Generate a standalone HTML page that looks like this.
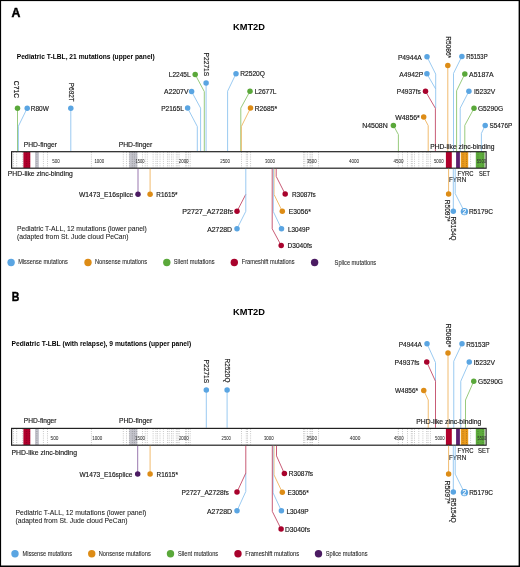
<!DOCTYPE html>
<html><head><meta charset="utf-8"><title>KMT2D</title>
<style>html,body{margin:0;padding:0;background:#fff;width:520px;height:567px;overflow:hidden}
svg{display:block;font-family:"Liberation Sans",sans-serif;will-change:transform}</style></head>
<body>
<svg width="520" height="567" viewBox="0 0 520 567" font-family="Liberation Sans, sans-serif" fill="#1a1a1a">
<rect x="0" y="0" width="520" height="567" fill="#000"/>
<rect x="1.1" y="1.1" width="517.5" height="564.4" fill="#fff"/>
<text x="11.4" y="16.6" font-size="12.9" font-weight="bold" textLength="8.9" lengthAdjust="spacingAndGlyphs" fill="#000" stroke="#000" stroke-width="0.45">A</text>
<text x="233" y="29.7" font-size="8.9" font-weight="bold" textLength="32" lengthAdjust="spacingAndGlyphs" fill="#000">KMT2D</text>
<text x="16.7" y="58.6" font-size="6.7" font-weight="bold" textLength="138" lengthAdjust="spacingAndGlyphs" fill="#000">Pediatric T-LBL, 21 mutations (upper panel)</text>
<polyline points="17.5,151.1 17.5,108.2" fill="none" stroke="#8cc46e" stroke-width="0.9"/>
<polyline points="18.4,151.1 18.4,126.2 27.2,108.2" fill="none" stroke="#8ec4ef" stroke-width="0.9"/>
<polyline points="70.8,151.1 70.8,108.2" fill="none" stroke="#8ec4ef" stroke-width="0.9"/>
<polyline points="197.3,151.1 197.3,126.5 187.6,108.1" fill="none" stroke="#8ec4ef" stroke-width="0.9"/>
<polyline points="200.6,151.1 200.6,108.1 191.6,91.6" fill="none" stroke="#8ec4ef" stroke-width="0.9"/>
<polyline points="204.3,151.1 204.3,91.6 195.2,74.5" fill="none" stroke="#8cc46e" stroke-width="0.9"/>
<polyline points="206.1,151.1 206.1,82.9" fill="none" stroke="#8ec4ef" stroke-width="0.9"/>
<polyline points="227.6,151.1 227.6,91.2 236,73.7" fill="none" stroke="#8ec4ef" stroke-width="0.9"/>
<polyline points="240.8,151.1 240.8,108.1 250,91.2" fill="none" stroke="#8cc46e" stroke-width="0.9"/>
<polyline points="241.3,151.1 241.3,126.6 250.5,108.1" fill="none" stroke="#efb460" stroke-width="0.9"/>
<polyline points="398.4,151.1 398.4,134.6 393.4,125.4" fill="none" stroke="#8cc46e" stroke-width="0.9"/>
<polyline points="428.2,151.1 428.2,125.6 423.7,117" fill="none" stroke="#efb460" stroke-width="0.9"/>
<polyline points="435.7,89 435.7,74.1 427,56.8" fill="none" stroke="#8ec4ef" stroke-width="0.9"/>
<polyline points="435.7,108.3 435.7,89 426.9,73.8" fill="none" stroke="#8ec4ef" stroke-width="0.9"/>
<polyline points="435.4,151.1 435.4,108.3 425.5,91.3" fill="none" stroke="#c24a66" stroke-width="0.9"/>
<polyline points="447.8,151.1 447.8,65.5" fill="none" stroke="#efb460" stroke-width="0.9"/>
<polyline points="453.5,151.1 453.5,73.4 461.9,56.4" fill="none" stroke="#8ec4ef" stroke-width="0.9"/>
<polyline points="456.6,151.1 456.6,90.8 464.8,74" fill="none" stroke="#8cc46e" stroke-width="0.9"/>
<polyline points="460.2,151.1 460.2,108.1 468.9,91.3" fill="none" stroke="#8ec4ef" stroke-width="0.9"/>
<polyline points="464.8,151.1 464.8,125.3 474,108.3" fill="none" stroke="#8cc46e" stroke-width="0.9"/>
<polyline points="481.4,151.1 481.4,133.4 485.2,125.4" fill="none" stroke="#8ec4ef" stroke-width="0.9"/>
<circle cx="17.5" cy="108.2" r="2.75" fill="#5aa83a"/>
<circle cx="27.2" cy="108.2" r="2.75" fill="#5aa5e2"/>
<circle cx="70.8" cy="108.2" r="2.75" fill="#5aa5e2"/>
<circle cx="187.6" cy="108.1" r="2.75" fill="#5aa5e2"/>
<circle cx="191.6" cy="91.6" r="2.75" fill="#5aa5e2"/>
<circle cx="195.2" cy="74.5" r="2.75" fill="#5aa83a"/>
<circle cx="206.1" cy="82.9" r="2.75" fill="#5aa5e2"/>
<circle cx="236" cy="73.7" r="2.75" fill="#5aa5e2"/>
<circle cx="250" cy="91.2" r="2.75" fill="#5aa83a"/>
<circle cx="250.5" cy="108.1" r="2.75" fill="#dd8c16"/>
<circle cx="393.4" cy="125.4" r="2.75" fill="#5aa83a"/>
<circle cx="423.7" cy="117" r="2.75" fill="#dd8c16"/>
<circle cx="427" cy="56.8" r="2.75" fill="#5aa5e2"/>
<circle cx="426.9" cy="73.8" r="2.75" fill="#5aa5e2"/>
<circle cx="425.5" cy="91.3" r="2.75" fill="#a8022c"/>
<circle cx="447.8" cy="65.5" r="2.75" fill="#dd8c16"/>
<circle cx="461.9" cy="56.4" r="2.75" fill="#5aa5e2"/>
<circle cx="464.8" cy="74" r="2.75" fill="#5aa83a"/>
<circle cx="468.9" cy="91.3" r="2.75" fill="#5aa5e2"/>
<circle cx="474" cy="108.3" r="2.75" fill="#5aa83a"/>
<circle cx="485.2" cy="125.4" r="2.75" fill="#5aa5e2"/>
<text x="0" y="0" font-size="6.9" transform="translate(14.3 80.8) rotate(90)" textLength="17.2" lengthAdjust="spacingAndGlyphs" stroke="#1a1a1a" stroke-width="0.16">C71C</text>
<text x="30.8" y="110.97" font-size="6.9" textLength="18" lengthAdjust="spacingAndGlyphs" stroke="#1a1a1a" stroke-width="0.16">R80W</text>
<text x="0" y="0" font-size="6.9" transform="translate(68.9 82.8) rotate(90)" textLength="18.9" lengthAdjust="spacingAndGlyphs" stroke="#1a1a1a" stroke-width="0.16">P692T</text>
<text x="183.8" y="110.87" font-size="6.9" text-anchor="end" textLength="22.6" lengthAdjust="spacingAndGlyphs" stroke="#1a1a1a" stroke-width="0.16">P2165L</text>
<text x="188.5" y="94.37" font-size="6.9" text-anchor="end" textLength="24.4" lengthAdjust="spacingAndGlyphs" stroke="#1a1a1a" stroke-width="0.16">A2207V</text>
<text x="190.6" y="77.27" font-size="6.9" text-anchor="end" textLength="21.8" lengthAdjust="spacingAndGlyphs" stroke="#1a1a1a" stroke-width="0.16">L2245L</text>
<text x="0" y="0" font-size="6.9" transform="translate(204.1 52.6) rotate(90)" textLength="23.6" lengthAdjust="spacingAndGlyphs" stroke="#1a1a1a" stroke-width="0.16">P2271S</text>
<text x="240.2" y="76.47" font-size="6.9" textLength="24.8" lengthAdjust="spacingAndGlyphs" stroke="#1a1a1a" stroke-width="0.16">R2520Q</text>
<text x="254.7" y="93.97" font-size="6.9" textLength="21.8" lengthAdjust="spacingAndGlyphs" stroke="#1a1a1a" stroke-width="0.16">L2677L</text>
<text x="254.7" y="110.87" font-size="6.9" textLength="22.4" lengthAdjust="spacingAndGlyphs" stroke="#1a1a1a" stroke-width="0.16">R2685*</text>
<text x="387.8" y="128.17" font-size="6.9" text-anchor="end" textLength="25.6" lengthAdjust="spacingAndGlyphs" stroke="#1a1a1a" stroke-width="0.16">N4508N</text>
<text x="419.8" y="119.57" font-size="6.9" text-anchor="end" textLength="24.6" lengthAdjust="spacingAndGlyphs" stroke="#1a1a1a" stroke-width="0.16">W4856*</text>
<text x="420.8" y="94.07" font-size="6.9" text-anchor="end" textLength="24" lengthAdjust="spacingAndGlyphs" stroke="#1a1a1a" stroke-width="0.16">P4937fs</text>
<text x="423.1" y="76.57" font-size="6.9" text-anchor="end" textLength="23.8" lengthAdjust="spacingAndGlyphs" stroke="#1a1a1a" stroke-width="0.16">A4942P</text>
<text x="421.8" y="59.57" font-size="6.9" text-anchor="end" textLength="23.9" lengthAdjust="spacingAndGlyphs" stroke="#1a1a1a" stroke-width="0.16">P4944A</text>
<text x="0" y="0" font-size="6.9" transform="translate(446 36.2) rotate(90)" textLength="22" lengthAdjust="spacingAndGlyphs" stroke="#1a1a1a" stroke-width="0.16">R5086*</text>
<text x="466.2" y="59.17" font-size="6.9" textLength="21.4" lengthAdjust="spacingAndGlyphs" stroke="#1a1a1a" stroke-width="0.16">R5153P</text>
<text x="469.1" y="76.77" font-size="6.9" textLength="24.6" lengthAdjust="spacingAndGlyphs" stroke="#1a1a1a" stroke-width="0.16">A5187A</text>
<text x="474" y="94.07" font-size="6.9" textLength="21.2" lengthAdjust="spacingAndGlyphs" stroke="#1a1a1a" stroke-width="0.16">I5232V</text>
<text x="477.9" y="111.07" font-size="6.9" textLength="25.2" lengthAdjust="spacingAndGlyphs" stroke="#1a1a1a" stroke-width="0.16">G5290G</text>
<text x="489.5" y="128.17" font-size="6.9" textLength="22.7" lengthAdjust="spacingAndGlyphs" stroke="#1a1a1a" stroke-width="0.16">S5476P</text>
<rect x="23.4" y="151.9" width="6.9" height="16.1" fill="#b0002c"/>
<rect x="35" y="151.9" width="3.9" height="16.1" fill="#c4c4cc"/>
<rect x="129.3" y="151.9" width="8" height="16.1" fill="#c4c4cc"/>
<rect x="445.9" y="151.9" width="5.9" height="16.1" fill="#b0002c"/>
<rect x="456.1" y="151.9" width="3.8" height="16.1" fill="#5b1f70"/>
<rect x="460.8" y="151.9" width="7.4" height="16.1" fill="#e99a1c"/>
<rect x="475.8" y="151.9" width="8.8" height="16.1" fill="#5dab3c"/>
<path d="M13.5 152.1V167.8 M16.7 152.1V167.8 M22.7 152.1V167.8 M26.7 152.1V167.8 M29.6 152.1V167.8 M36.9 152.1V167.8 M43.4 152.1V167.8 M47.5 152.1V167.8 M91.4 152.1V167.8 M123.3 152.1V167.8 M126.5 152.1V167.8 M129.4 152.1V167.8 M132.3 152.1V167.8 M134.4 152.1V167.8 M136.9 152.1V167.8 M142.5 152.1V167.8 M145.2 152.1V167.8 M147.3 152.1V167.8 M153.1 152.1V167.8 M155.9 152.1V167.8 M157.4 152.1V167.8 M160 152.1V167.8 M163.4 152.1V167.8 M167.5 152.1V167.8 M169.2 152.1V167.8 M171.5 152.1V167.8 M173.2 152.1V167.8 M176.3 152.1V167.8 M177.8 152.1V167.8 M179.2 152.1V167.8 M185.6 152.1V167.8 M186.7 152.1V167.8 M188.5 152.1V167.8 M190.2 152.1V167.8 M241.5 152.1V167.8 M246.3 152.1V167.8 M247.5 152.1V167.8 M250.6 152.1V167.8 M303.6 152.1V167.8 M304.8 152.1V167.8 M307.3 152.1V167.8 M310 152.1V167.8 M311.1 152.1V167.8 M312.5 152.1V167.8 M318.6 152.1V167.8 M398.3 152.1V167.8 M402.5 152.1V167.8 M407.5 152.1V167.8 M411.3 152.1V167.8 M412.3 152.1V167.8 M414.5 152.1V167.8 M418.8 152.1V167.8 M422.9 152.1V167.8 M426.7 152.1V167.8 M428.1 152.1V167.8 M430.4 152.1V167.8 M463 152.1V167.8 M466.5 152.1V167.8 M470.6 152.1V167.8 M478 152.1V167.8 M483 152.1V167.8" stroke="#000" stroke-opacity="0.38" stroke-width="0.6" stroke-dasharray="1 1.2" fill="none"/>
<text x="52.2" y="162.75" font-size="5.7" textLength="7.6" lengthAdjust="spacingAndGlyphs" fill="#333" stroke="#333" stroke-width="0.05">500</text>
<text x="94.4" y="162.75" font-size="5.7" textLength="9.8" lengthAdjust="spacingAndGlyphs" fill="#333" stroke="#333" stroke-width="0.05">1000</text>
<text x="135.6" y="162.75" font-size="5.7" textLength="9" lengthAdjust="spacingAndGlyphs" fill="#333" stroke="#333" stroke-width="0.05">1500</text>
<text x="178.7" y="162.75" font-size="5.7" textLength="9.9" lengthAdjust="spacingAndGlyphs" fill="#333" stroke="#333" stroke-width="0.05">2000</text>
<text x="220.2" y="162.75" font-size="5.7" textLength="9.8" lengthAdjust="spacingAndGlyphs" fill="#333" stroke="#333" stroke-width="0.05">2500</text>
<text x="265" y="162.75" font-size="5.7" textLength="10.1" lengthAdjust="spacingAndGlyphs" fill="#333" stroke="#333" stroke-width="0.05">3000</text>
<text x="306.9" y="162.75" font-size="5.7" textLength="9.7" lengthAdjust="spacingAndGlyphs" fill="#333" stroke="#333" stroke-width="0.05">3500</text>
<text x="348.9" y="162.75" font-size="5.7" textLength="10.2" lengthAdjust="spacingAndGlyphs" fill="#333" stroke="#333" stroke-width="0.05">4000</text>
<text x="393.5" y="162.75" font-size="5.7" textLength="10.1" lengthAdjust="spacingAndGlyphs" fill="#333" stroke="#333" stroke-width="0.05">4500</text>
<text x="433.9" y="162.75" font-size="5.7" textLength="9.7" lengthAdjust="spacingAndGlyphs" fill="#333" stroke="#333" stroke-width="0.05">5000</text>
<text x="476.8" y="162.75" font-size="5.7" textLength="9.3" lengthAdjust="spacingAndGlyphs" fill="#333" stroke="#333" stroke-width="0.05">5500</text>
<rect x="11.6" y="151.7" width="474.5" height="16.5" fill="none" stroke="#222" stroke-width="1.2"/>
<text x="23.8" y="146.6" font-size="7" textLength="33.2" lengthAdjust="spacingAndGlyphs" stroke="#1a1a1a" stroke-width="0.16">PHD-finger</text>
<text x="118.7" y="147" font-size="7" textLength="33.6" lengthAdjust="spacingAndGlyphs" stroke="#1a1a1a" stroke-width="0.16">PHD-finger</text>
<text x="7.8" y="175.9" font-size="7" textLength="64.9" lengthAdjust="spacingAndGlyphs" stroke="#1a1a1a" stroke-width="0.16">PHD-like zinc-binding</text>
<text x="430.2" y="148.6" font-size="7" textLength="64.2" lengthAdjust="spacingAndGlyphs" stroke="#1a1a1a" stroke-width="0.16">PHD-like zinc-binding</text>
<text x="457.6" y="175.5" font-size="7.5" textLength="16" lengthAdjust="spacingAndGlyphs" stroke="#1a1a1a" stroke-width="0.16">FYRC</text>
<text x="479" y="175.5" font-size="7.5" textLength="11" lengthAdjust="spacingAndGlyphs" stroke="#1a1a1a" stroke-width="0.16">SET</text>
<text x="449" y="182.4" font-size="7.5" textLength="17.2" lengthAdjust="spacingAndGlyphs" stroke="#1a1a1a" stroke-width="0.16">FYRN</text>
<polyline points="138,168.8 138,194.3" fill="none" stroke="#8e6aa6" stroke-width="0.9"/>
<polyline points="150.1,168.8 150.1,194.3" fill="none" stroke="#efb460" stroke-width="0.9"/>
<polyline points="245.8,194.3 245.8,194.3 237,211.3" fill="none" stroke="#c24a66" stroke-width="0.9"/>
<polyline points="245.8,168.8 245.8,211.3 237,228.8" fill="none" stroke="#8ec4ef" stroke-width="0.9"/>
<polyline points="276.2,168.8 276.2,176.4 285.2,194.1" fill="none" stroke="#c24a66" stroke-width="0.9"/>
<polyline points="274,168.8 274,194.4 282.3,211.3" fill="none" stroke="#efb460" stroke-width="0.9"/>
<polyline points="273.3,168.8 273.3,211.6 281.5,228.8" fill="none" stroke="#8ec4ef" stroke-width="0.9"/>
<polyline points="272.2,168.8 272.2,228.8 281.2,245.5" fill="none" stroke="#c24a66" stroke-width="0.9"/>
<polyline points="448.6,168.8 448.6,193.9" fill="none" stroke="#efb460" stroke-width="0.9"/>
<polyline points="453.3,168.8 453.3,211.3" fill="none" stroke="#8ec4ef" stroke-width="0.9"/>
<polyline points="455.2,168.8 455.2,193.6 464.4,211.6" fill="none" stroke="#8ec4ef" stroke-width="0.9"/>
<circle cx="138" cy="194.3" r="2.75" fill="#4b1b62"/>
<circle cx="150.1" cy="194.3" r="2.75" fill="#dd8c16"/>
<circle cx="237" cy="211.3" r="2.75" fill="#a8022c"/>
<circle cx="237" cy="228.8" r="2.75" fill="#5aa5e2"/>
<circle cx="285.2" cy="194.1" r="2.75" fill="#a8022c"/>
<circle cx="282.3" cy="211.3" r="2.75" fill="#dd8c16"/>
<circle cx="281.5" cy="228.8" r="2.75" fill="#5aa5e2"/>
<circle cx="281.2" cy="245.5" r="2.75" fill="#a8022c"/>
<circle cx="448.6" cy="193.9" r="2.75" fill="#dd8c16"/>
<circle cx="453.3" cy="211.3" r="2.75" fill="#5aa5e2"/>
<circle cx="464.4" cy="211.6" r="3.7" fill="#5aa5e2"/>
<text x="464.45" y="213.95" font-size="6.6" text-anchor="middle" fill="#fff" stroke="#fff" stroke-width="0.25">2</text>
<text x="133.3" y="197.07" font-size="6.9" text-anchor="end" textLength="54.3" lengthAdjust="spacingAndGlyphs" stroke="#1a1a1a" stroke-width="0.16">W1473_E16splice</text>
<text x="156.3" y="197.07" font-size="6.9" textLength="21.2" lengthAdjust="spacingAndGlyphs" stroke="#1a1a1a" stroke-width="0.16">R1615*</text>
<text x="233" y="214.07" font-size="6.9" text-anchor="end" textLength="50.8" lengthAdjust="spacingAndGlyphs" stroke="#1a1a1a" stroke-width="0.16">P2727_A2728fs</text>
<text x="232" y="231.57" font-size="6.9" text-anchor="end" textLength="24.8" lengthAdjust="spacingAndGlyphs" stroke="#1a1a1a" stroke-width="0.16">A2728D</text>
<text x="292" y="196.87" font-size="6.9" textLength="23.8" lengthAdjust="spacingAndGlyphs" stroke="#1a1a1a" stroke-width="0.16">R3087fs</text>
<text x="288.8" y="214.07" font-size="6.9" textLength="22" lengthAdjust="spacingAndGlyphs" stroke="#1a1a1a" stroke-width="0.16">E3056*</text>
<text x="287.9" y="231.57" font-size="6.9" textLength="21.8" lengthAdjust="spacingAndGlyphs" stroke="#1a1a1a" stroke-width="0.16">L3049P</text>
<text x="287.5" y="248.27" font-size="6.9" textLength="24.5" lengthAdjust="spacingAndGlyphs" stroke="#1a1a1a" stroke-width="0.16">D3040fs</text>
<text x="0" y="0" font-size="6.9" transform="translate(444.5 199.8) rotate(90)" textLength="21.8" lengthAdjust="spacingAndGlyphs" stroke="#1a1a1a" stroke-width="0.16">R5097*</text>
<text x="0" y="0" font-size="6.9" transform="translate(451.4 216.4) rotate(90)" textLength="24.2" lengthAdjust="spacingAndGlyphs" stroke="#1a1a1a" stroke-width="0.16">R5154Q</text>
<text x="468.9" y="213.97" font-size="6.9" textLength="24" lengthAdjust="spacingAndGlyphs" stroke="#1a1a1a" stroke-width="0.16">R5179C</text>
<text x="16.9" y="231.2" font-size="6.6" textLength="130" lengthAdjust="spacingAndGlyphs" stroke="#1a1a1a" stroke-width="0.06">Pediatric T-ALL, 12 mutations (lower panel)</text>
<text x="16.9" y="238.9" font-size="6.6" textLength="111.7" lengthAdjust="spacingAndGlyphs" stroke="#1a1a1a" stroke-width="0.06">(adapted from St. Jude cloud PeCan)</text>
<circle cx="11.1" cy="262.5" r="3.7" fill="#5aa5e2"/>
<text x="18.2" y="264.3" font-size="6.3" textLength="49.5" lengthAdjust="spacingAndGlyphs" stroke="#1a1a1a" stroke-width="0.06">Missense mutations</text>
<circle cx="88" cy="262.5" r="3.7" fill="#dd8c16"/>
<text x="95" y="264.3" font-size="6.3" textLength="52" lengthAdjust="spacingAndGlyphs" stroke="#1a1a1a" stroke-width="0.06">Nonsense mutations</text>
<circle cx="166.8" cy="262.5" r="3.7" fill="#5aa83a"/>
<text x="173.8" y="264.3" font-size="6.3" textLength="40.7" lengthAdjust="spacingAndGlyphs" stroke="#1a1a1a" stroke-width="0.06">Silent mutations</text>
<circle cx="234.3" cy="262.5" r="3.7" fill="#a8022c"/>
<text x="241.7" y="264.3" font-size="6.3" textLength="52.9" lengthAdjust="spacingAndGlyphs" stroke="#1a1a1a" stroke-width="0.06">Frameshift mutations</text>
<circle cx="314.6" cy="262.5" r="3.7" fill="#4b1b62"/>
<text x="334.6" y="265" font-size="6.3" textLength="41.6" lengthAdjust="spacingAndGlyphs" stroke="#1a1a1a" stroke-width="0.06">Splice mutations</text>
<text x="11.8" y="301" font-size="12.9" font-weight="bold" textLength="7.6" lengthAdjust="spacingAndGlyphs" fill="#000" stroke="#000" stroke-width="0.45">B</text>
<text x="233" y="315.3" font-size="8.9" font-weight="bold" textLength="32" lengthAdjust="spacingAndGlyphs" fill="#000">KMT2D</text>
<text x="11.6" y="346.2" font-size="6.7" font-weight="bold" textLength="179.6" lengthAdjust="spacingAndGlyphs" fill="#000">Pediatric T-LBL (with relapse), 9 mutations (upper panel)</text>
<polyline points="206.3,427.8 206.3,390" fill="none" stroke="#8ec4ef" stroke-width="0.9"/>
<polyline points="227.1,427.8 227.1,390" fill="none" stroke="#8ec4ef" stroke-width="0.9"/>
<polyline points="428.25,427.8 428.25,400 423.75,390.5" fill="none" stroke="#efb460" stroke-width="0.9"/>
<polyline points="435.5,381.25 435.5,362.5 427,343.75" fill="none" stroke="#8ec4ef" stroke-width="0.9"/>
<polyline points="435.5,427.8 435.5,381.25 426.75,362" fill="none" stroke="#c24a66" stroke-width="0.9"/>
<polyline points="448,427.8 448,353" fill="none" stroke="#efb460" stroke-width="0.9"/>
<polyline points="453.75,427.8 453.75,361.25 462,343.75" fill="none" stroke="#8ec4ef" stroke-width="0.9"/>
<polyline points="460.75,427.8 460.75,381.25 469.25,362" fill="none" stroke="#8ec4ef" stroke-width="0.9"/>
<polyline points="465.5,427.8 465.5,400 473.75,381.25" fill="none" stroke="#8cc46e" stroke-width="0.9"/>
<circle cx="206.3" cy="390" r="2.75" fill="#5aa5e2"/>
<circle cx="227.1" cy="390" r="2.75" fill="#5aa5e2"/>
<circle cx="423.75" cy="390.5" r="2.75" fill="#dd8c16"/>
<circle cx="427" cy="343.75" r="2.75" fill="#5aa5e2"/>
<circle cx="426.75" cy="362" r="2.75" fill="#a8022c"/>
<circle cx="448" cy="353" r="2.75" fill="#dd8c16"/>
<circle cx="462" cy="343.75" r="2.75" fill="#5aa5e2"/>
<circle cx="469.25" cy="362" r="2.75" fill="#5aa5e2"/>
<circle cx="473.75" cy="381.25" r="2.75" fill="#5aa83a"/>
<text x="0" y="0" font-size="6.9" transform="translate(204.1 359.6) rotate(90)" textLength="23.6" lengthAdjust="spacingAndGlyphs" stroke="#1a1a1a" stroke-width="0.16">P2271S</text>
<text x="0" y="0" font-size="6.9" transform="translate(224.9 358.6) rotate(90)" textLength="23.8" lengthAdjust="spacingAndGlyphs" stroke="#1a1a1a" stroke-width="0.16">R2520Q</text>
<text x="418" y="393.27" font-size="6.9" text-anchor="end" textLength="23" lengthAdjust="spacingAndGlyphs" stroke="#1a1a1a" stroke-width="0.16">W4856*</text>
<text x="419.5" y="364.77" font-size="6.9" text-anchor="end" textLength="25" lengthAdjust="spacingAndGlyphs" stroke="#1a1a1a" stroke-width="0.16">P4937fs</text>
<text x="422" y="346.52" font-size="6.9" text-anchor="end" textLength="23.3" lengthAdjust="spacingAndGlyphs" stroke="#1a1a1a" stroke-width="0.16">P4944A</text>
<text x="0" y="0" font-size="6.9" transform="translate(446.2 323.5) rotate(90)" textLength="23.8" lengthAdjust="spacingAndGlyphs" stroke="#1a1a1a" stroke-width="0.16">R5086*</text>
<text x="466.25" y="346.52" font-size="6.9" textLength="23.3" lengthAdjust="spacingAndGlyphs" stroke="#1a1a1a" stroke-width="0.16">R5153P</text>
<text x="473.75" y="364.77" font-size="6.9" textLength="21.3" lengthAdjust="spacingAndGlyphs" stroke="#1a1a1a" stroke-width="0.16">I5232V</text>
<text x="478" y="384.02" font-size="6.9" textLength="25" lengthAdjust="spacingAndGlyphs" stroke="#1a1a1a" stroke-width="0.16">G5290G</text>
<rect x="23.4" y="428.6" width="6.9" height="16.4" fill="#b0002c"/>
<rect x="35" y="428.6" width="3.9" height="16.4" fill="#c4c4cc"/>
<rect x="129.3" y="428.6" width="8" height="16.4" fill="#c4c4cc"/>
<rect x="445.9" y="428.6" width="5.9" height="16.4" fill="#b0002c"/>
<rect x="456.1" y="428.6" width="3.8" height="16.4" fill="#5b1f70"/>
<rect x="460.8" y="428.6" width="7.4" height="16.4" fill="#e99a1c"/>
<rect x="475.8" y="428.6" width="8.8" height="16.4" fill="#5dab3c"/>
<path d="M13.5 428.8V444.8 M16.7 428.8V444.8 M22.7 428.8V444.8 M26.7 428.8V444.8 M29.6 428.8V444.8 M36.9 428.8V444.8 M43.4 428.8V444.8 M47.5 428.8V444.8 M91.4 428.8V444.8 M123.3 428.8V444.8 M126.5 428.8V444.8 M129.4 428.8V444.8 M132.3 428.8V444.8 M134.4 428.8V444.8 M136.9 428.8V444.8 M142.5 428.8V444.8 M145.2 428.8V444.8 M147.3 428.8V444.8 M153.1 428.8V444.8 M155.9 428.8V444.8 M157.4 428.8V444.8 M160 428.8V444.8 M163.4 428.8V444.8 M167.5 428.8V444.8 M169.2 428.8V444.8 M171.5 428.8V444.8 M173.2 428.8V444.8 M176.3 428.8V444.8 M177.8 428.8V444.8 M179.2 428.8V444.8 M185.6 428.8V444.8 M186.7 428.8V444.8 M188.5 428.8V444.8 M190.2 428.8V444.8 M241.5 428.8V444.8 M246.3 428.8V444.8 M247.5 428.8V444.8 M250.6 428.8V444.8 M303.6 428.8V444.8 M304.8 428.8V444.8 M307.3 428.8V444.8 M310 428.8V444.8 M311.1 428.8V444.8 M312.5 428.8V444.8 M318.6 428.8V444.8 M398.3 428.8V444.8 M402.5 428.8V444.8 M407.5 428.8V444.8 M411.3 428.8V444.8 M412.3 428.8V444.8 M414.5 428.8V444.8 M418.8 428.8V444.8 M422.9 428.8V444.8 M426.7 428.8V444.8 M428.1 428.8V444.8 M430.4 428.8V444.8 M463 428.8V444.8 M466.5 428.8V444.8 M470.6 428.8V444.8 M478 428.8V444.8 M483 428.8V444.8" stroke="#000" stroke-opacity="0.38" stroke-width="0.6" stroke-dasharray="1 1.2" fill="none"/>
<text x="50.5" y="439.6" font-size="5.7" textLength="8" lengthAdjust="spacingAndGlyphs" fill="#333" stroke="#333" stroke-width="0.05">500</text>
<text x="92.3" y="439.6" font-size="5.7" textLength="10" lengthAdjust="spacingAndGlyphs" fill="#333" stroke="#333" stroke-width="0.05">1000</text>
<text x="135" y="439.6" font-size="5.7" textLength="10" lengthAdjust="spacingAndGlyphs" fill="#333" stroke="#333" stroke-width="0.05">1500</text>
<text x="178.9" y="439.6" font-size="5.7" textLength="9.9" lengthAdjust="spacingAndGlyphs" fill="#333" stroke="#333" stroke-width="0.05">2000</text>
<text x="221.6" y="439.6" font-size="5.7" textLength="9.3" lengthAdjust="spacingAndGlyphs" fill="#333" stroke="#333" stroke-width="0.05">2500</text>
<text x="263.9" y="439.6" font-size="5.7" textLength="9.9" lengthAdjust="spacingAndGlyphs" fill="#333" stroke="#333" stroke-width="0.05">3000</text>
<text x="306.6" y="439.6" font-size="5.7" textLength="10.4" lengthAdjust="spacingAndGlyphs" fill="#333" stroke="#333" stroke-width="0.05">3500</text>
<text x="349.8" y="439.6" font-size="5.7" textLength="10.6" lengthAdjust="spacingAndGlyphs" fill="#333" stroke="#333" stroke-width="0.05">4000</text>
<text x="393.9" y="439.6" font-size="5.7" textLength="9.7" lengthAdjust="spacingAndGlyphs" fill="#333" stroke="#333" stroke-width="0.05">4500</text>
<text x="435" y="439.6" font-size="5.7" textLength="9.7" lengthAdjust="spacingAndGlyphs" fill="#333" stroke="#333" stroke-width="0.05">5000</text>
<text x="477.5" y="439.6" font-size="5.7" textLength="8.7" lengthAdjust="spacingAndGlyphs" fill="#333" stroke="#333" stroke-width="0.05">5500</text>
<rect x="11.6" y="428.4" width="474.5" height="16.8" fill="none" stroke="#222" stroke-width="1.2"/>
<text x="23.8" y="423" font-size="7" textLength="32.7" lengthAdjust="spacingAndGlyphs" stroke="#1a1a1a" stroke-width="0.16">PHD-finger</text>
<text x="119" y="423.4" font-size="7" textLength="33.3" lengthAdjust="spacingAndGlyphs" stroke="#1a1a1a" stroke-width="0.16">PHD-finger</text>
<text x="11.5" y="454.6" font-size="7" textLength="65.5" lengthAdjust="spacingAndGlyphs" stroke="#1a1a1a" stroke-width="0.16">PHD-like zinc-binding</text>
<text x="416.3" y="423.6" font-size="7" textLength="65" lengthAdjust="spacingAndGlyphs" stroke="#1a1a1a" stroke-width="0.16">PHD-like zinc-binding</text>
<text x="457.6" y="453" font-size="7.5" textLength="16" lengthAdjust="spacingAndGlyphs" stroke="#1a1a1a" stroke-width="0.16">FYRC</text>
<text x="478" y="453" font-size="7.5" textLength="11.5" lengthAdjust="spacingAndGlyphs" stroke="#1a1a1a" stroke-width="0.16">SET</text>
<text x="449" y="460.2" font-size="7.5" textLength="17.2" lengthAdjust="spacingAndGlyphs" stroke="#1a1a1a" stroke-width="0.16">FYRN</text>
<polyline points="137.7,445.8 137.7,474" fill="none" stroke="#8e6aa6" stroke-width="0.9"/>
<polyline points="150.1,445.8 150.1,474" fill="none" stroke="#efb460" stroke-width="0.9"/>
<polyline points="245.8,473.1 245.8,491.5 237,510.8" fill="none" stroke="#8ec4ef" stroke-width="0.9"/>
<polyline points="245.8,445.8 245.8,473.1 237,492" fill="none" stroke="#c24a66" stroke-width="0.9"/>
<polyline points="276.5,445.8 276.5,455.9 284.4,473.5" fill="none" stroke="#c24a66" stroke-width="0.9"/>
<polyline points="274,445.8 274,474.9 282.3,492.3" fill="none" stroke="#efb460" stroke-width="0.9"/>
<polyline points="273.1,445.8 273.1,492.9 281.4,510.8" fill="none" stroke="#8ec4ef" stroke-width="0.9"/>
<polyline points="272.3,445.8 272.3,511.4 281.1,529" fill="none" stroke="#c24a66" stroke-width="0.9"/>
<polyline points="448.6,445.8 448.6,474.1" fill="none" stroke="#efb460" stroke-width="0.9"/>
<polyline points="453.3,445.8 453.3,492.1" fill="none" stroke="#8ec4ef" stroke-width="0.9"/>
<polyline points="455.2,445.8 455.2,474.1 464.4,492.6" fill="none" stroke="#8ec4ef" stroke-width="0.9"/>
<circle cx="137.7" cy="474" r="2.75" fill="#4b1b62"/>
<circle cx="150.1" cy="474" r="2.75" fill="#dd8c16"/>
<circle cx="237" cy="510.8" r="2.75" fill="#5aa5e2"/>
<circle cx="237" cy="492" r="2.75" fill="#a8022c"/>
<circle cx="284.4" cy="473.5" r="2.75" fill="#a8022c"/>
<circle cx="282.3" cy="492.3" r="2.75" fill="#dd8c16"/>
<circle cx="281.4" cy="510.8" r="2.75" fill="#5aa5e2"/>
<circle cx="281.1" cy="529" r="2.75" fill="#a8022c"/>
<circle cx="448.6" cy="474.1" r="2.75" fill="#dd8c16"/>
<circle cx="453.3" cy="492.1" r="2.75" fill="#5aa5e2"/>
<circle cx="464.4" cy="492.6" r="3.7" fill="#5aa5e2"/>
<text x="464.45" y="494.95" font-size="6.6" text-anchor="middle" fill="#fff" stroke="#fff" stroke-width="0.25">2</text>
<text x="132.4" y="476.77" font-size="6.9" text-anchor="end" textLength="53" lengthAdjust="spacingAndGlyphs" stroke="#1a1a1a" stroke-width="0.16">W1473_E16splice</text>
<text x="156.6" y="476.77" font-size="6.9" textLength="21.3" lengthAdjust="spacingAndGlyphs" stroke="#1a1a1a" stroke-width="0.16">R1615*</text>
<text x="228.8" y="494.77" font-size="6.9" text-anchor="end" textLength="47.3" lengthAdjust="spacingAndGlyphs" stroke="#1a1a1a" stroke-width="0.16">P2727_A2728fs</text>
<text x="232" y="513.57" font-size="6.9" text-anchor="end" textLength="25" lengthAdjust="spacingAndGlyphs" stroke="#1a1a1a" stroke-width="0.16">A2728D</text>
<text x="288.8" y="476.27" font-size="6.9" textLength="24.3" lengthAdjust="spacingAndGlyphs" stroke="#1a1a1a" stroke-width="0.16">R3087fs</text>
<text x="287.6" y="495.07" font-size="6.9" textLength="21.1" lengthAdjust="spacingAndGlyphs" stroke="#1a1a1a" stroke-width="0.16">E3056*</text>
<text x="286.4" y="513.57" font-size="6.9" textLength="22.3" lengthAdjust="spacingAndGlyphs" stroke="#1a1a1a" stroke-width="0.16">L3049P</text>
<text x="285" y="531.77" font-size="6.9" textLength="25" lengthAdjust="spacingAndGlyphs" stroke="#1a1a1a" stroke-width="0.16">D3040fs</text>
<text x="0" y="0" font-size="6.9" transform="translate(444.5 480.4) rotate(90)" textLength="23.4" lengthAdjust="spacingAndGlyphs" stroke="#1a1a1a" stroke-width="0.16">R5097*</text>
<text x="0" y="0" font-size="6.9" transform="translate(451.4 497.9) rotate(90)" textLength="24.8" lengthAdjust="spacingAndGlyphs" stroke="#1a1a1a" stroke-width="0.16">R5154Q</text>
<text x="469.2" y="495.17" font-size="6.9" textLength="23.8" lengthAdjust="spacingAndGlyphs" stroke="#1a1a1a" stroke-width="0.16">R5179C</text>
<text x="15.4" y="514.6" font-size="6.6" textLength="130.8" lengthAdjust="spacingAndGlyphs" stroke="#1a1a1a" stroke-width="0.06">Pediatric T-ALL, 12 mutations (lower panel)</text>
<text x="15.4" y="523.2" font-size="6.6" textLength="112.2" lengthAdjust="spacingAndGlyphs" stroke="#1a1a1a" stroke-width="0.06">(adapted from St. Jude cloud PeCan)</text>
<circle cx="15" cy="553.8" r="3.7" fill="#5aa5e2"/>
<text x="22.5" y="555.6" font-size="6.3" textLength="49.5" lengthAdjust="spacingAndGlyphs" stroke="#1a1a1a" stroke-width="0.06">Missense mutations</text>
<circle cx="91.75" cy="553.8" r="3.7" fill="#dd8c16"/>
<text x="98.75" y="555.6" font-size="6.3" textLength="52" lengthAdjust="spacingAndGlyphs" stroke="#1a1a1a" stroke-width="0.06">Nonsense mutations</text>
<circle cx="170.5" cy="553.8" r="3.7" fill="#5aa83a"/>
<text x="178" y="555.6" font-size="6.3" textLength="40.2" lengthAdjust="spacingAndGlyphs" stroke="#1a1a1a" stroke-width="0.06">Silent mutations</text>
<circle cx="238" cy="553.8" r="3.7" fill="#a8022c"/>
<text x="245.2" y="555.6" font-size="6.3" textLength="53.9" lengthAdjust="spacingAndGlyphs" stroke="#1a1a1a" stroke-width="0.06">Frameshift mutations</text>
<circle cx="318.5" cy="553.8" r="3.7" fill="#4b1b62"/>
<text x="325.7" y="556.3" font-size="6.3" textLength="41.8" lengthAdjust="spacingAndGlyphs" stroke="#1a1a1a" stroke-width="0.06">Splice mutations</text>
</svg>
</body></html>
